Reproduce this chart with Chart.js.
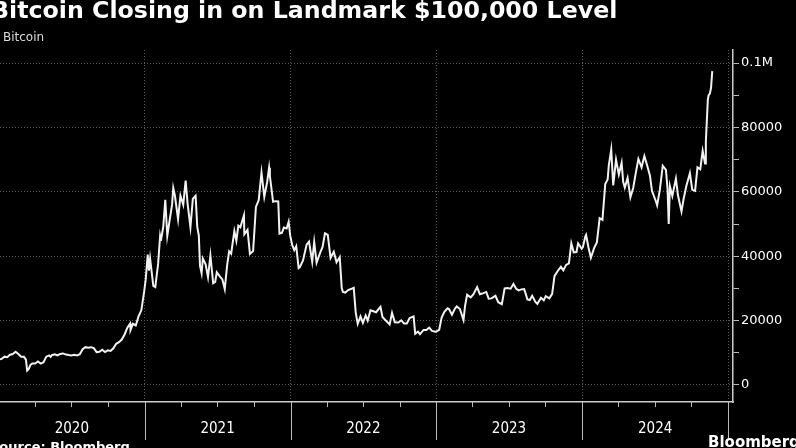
<!DOCTYPE html>
<html>
<head>
<meta charset="utf-8">
<script src="https://cdn.jsdelivr.net/npm/chart.js@4"></script>
<style>
  html, body { margin: 0; padding: 0; background: #000; overflow: hidden; }
  #wrap { position: relative; width: 796px; height: 448px; background: #000; }
  #title { position: absolute; left: -9px; top: -4px; white-space: nowrap;
           font: bold 23.7px "DejaVu Sans", sans-serif; color: #fff; }
  #sub { position: absolute; left: 3px; top: 30px; font: 12px "DejaVu Sans", sans-serif; color: #ddd; }
  #source { position: absolute; left: -10px; top: 439px; white-space: nowrap;
            font: bold 13px "DejaVu Sans", sans-serif; color: #fff; }
  #brand { position: absolute; left: 708px; top: 433px; white-space: nowrap;
           font: bold 15px "DejaVu Sans", sans-serif; color: #fff; }
  canvas { position: absolute; left: 0; top: 0; }
</style>
</head>
<body>
<div id="wrap">
  <canvas id="btcChart" width="796" height="448"></canvas>
  <div id="title">Bitcoin Closing in on Landmark $100,000 Level</div>
  <div id="sub">Bitcoin</div>
  <div id="source">Source: Bloomberg</div>
  <div id="brand">Bloomberg</div>
</div>
<script>
// ============================================
// Data (USD close)
// ============================================
const btc2020 = [
  ['01-01', 7900], ['01-08', 8100], ['01-15', 8800], ['01-22', 8650], ['01-29', 9400],
  ['02-05', 9600], ['02-12', 10300], ['02-19', 9600], ['02-26', 8800], ['03-04', 8750],
  ['03-09', 7900], ['03-12', 4500], ['03-16', 5000], ['03-20', 6200], ['03-25', 6700],
  ['04-01', 6650], ['04-08', 7300], ['04-15', 6650], ['04-22', 7100], ['04-29', 8800],
  ['05-06', 9200], ['05-10', 8700], ['05-13', 9300], ['05-20', 9500], ['05-27', 9200],
  ['06-03', 9650], ['06-10', 9800], ['06-17', 9450], ['06-24', 9300], ['07-01', 9200],
  ['07-08', 9400], ['07-15', 9200], ['07-22', 9550], ['07-29', 11100], ['08-05', 11750],
  ['08-12', 11550], ['08-19', 11750], ['08-26', 11450], ['09-02', 10200], ['09-09', 10300],
  ['09-16', 10950], ['09-23', 10250], ['09-30', 10780], ['10-07', 10600], ['10-14', 11400],
  ['10-21', 12800], ['10-28', 13300], ['11-04', 14100], ['11-11', 15700], ['11-18', 17800],
  ['11-25', 19100], ['11-26', 17100], ['12-02', 19000], ['12-09', 18500], ['12-16', 21300],
  ['12-23', 23200], ['12-30', 28900]
];
const btc2021 = [
  ['01-03', 32800], ['01-08', 40500], ['01-11', 35500], ['01-14', 39200], ['01-22', 30800],
  ['01-27', 30400], ['02-03', 37600], ['02-08', 46200], ['02-10', 44800], ['02-16', 49200],
  ['02-21', 57500], ['02-26', 46300], ['03-03', 50400], ['03-10', 56000], ['03-13', 61200],
  ['03-17', 58900], ['03-25', 51500], ['03-31', 58800], ['04-07', 56000], ['04-13', 63500],
  ['04-18', 56200], ['04-25', 49000], ['05-01', 57800], ['05-08', 58800], ['05-12', 49200],
  ['05-16', 46400], ['05-19', 37000], ['05-23', 34700], ['05-26', 39300], ['06-02', 37500],
  ['06-08', 33500], ['06-14', 40200], ['06-21', 31600], ['06-26', 32000], ['06-30', 35000],
  ['07-07', 33800], ['07-14', 32800], ['07-20', 29800], ['07-26', 37300], ['07-31', 41500],
  ['08-05', 40800], ['08-13', 47800], ['08-18', 44800], ['08-23', 49500], ['08-28', 49000],
  ['09-06', 52700], ['09-07', 46800], ['09-15', 48200], ['09-21', 40700], ['09-29', 41600],
  ['10-06', 55300], ['10-13', 57400], ['10-20', 66000], ['10-27', 58400], ['11-03', 62900],
  ['11-08', 67500], ['11-10', 64900], ['11-18', 56900], ['11-24', 57100], ['12-01', 57000],
  ['12-04', 47000], ['12-10', 47200], ['12-15', 48900], ['12-22', 48600], ['12-27', 50700],
  ['12-31', 46300]
];
const btc2022 = [
  ['01-05', 43400], ['01-10', 41900], ['01-15', 43100], ['01-21', 36300], ['01-24', 36600],
  ['02-01', 38700], ['02-10', 43600], ['02-16', 44500], ['02-24', 38300], ['03-01', 44400],
  ['03-07', 38000], ['03-16', 41100], ['03-22', 42900], ['03-28', 47100], ['04-04', 46600],
  ['04-11', 39500], ['04-19', 41400], ['04-26', 38100], ['05-04', 39700], ['05-09', 30100],
  ['05-12', 28900], ['05-18', 28700], ['05-25', 29500], ['06-01', 29800], ['06-08', 30200],
  ['06-13', 22500], ['06-18', 19000], ['06-25', 21300], ['07-01', 19300], ['07-08', 21600],
  ['07-13', 20000], ['07-20', 23200], ['07-27', 22900], ['08-03', 22600], ['08-14', 24300],
  ['08-19', 21100], ['08-26', 20200], ['09-06', 18800], ['09-12', 22400], ['09-19', 19500],
  ['09-28', 19400], ['10-05', 20100], ['10-12', 19100], ['10-19', 19100], ['10-26', 20800],
  ['11-05', 21300], ['11-09', 15900], ['11-16', 16600], ['11-21', 15800], ['11-30', 17100],
  ['12-07', 17100], ['12-14', 17800], ['12-21', 16800], ['12-30', 16550]
];
const btc2023 = [
  ['01-01', 16600], ['01-08', 17100], ['01-14', 20900], ['01-21', 22700], ['01-29', 23800],
  ['02-02', 23500], ['02-09', 21800], ['02-16', 23600], ['02-21', 24400], ['03-01', 23600],
  ['03-10', 20200], ['03-14', 24700], ['03-19', 28000], ['03-28', 27200], ['04-04', 28200],
  ['04-13', 30400], ['04-20', 28200], ['04-26', 28400], ['05-06', 28900], ['05-12', 26800],
  ['05-19', 26900], ['05-29', 27700], ['06-05', 25700], ['06-14', 25100], ['06-21', 30000],
  ['06-28', 30100], ['07-06', 29900], ['07-13', 31400], ['07-20', 29900], ['07-26', 29400],
  ['08-02', 29700], ['08-09', 29800], ['08-17', 26600], ['08-23', 26400], ['08-29', 27700],
  ['09-06', 25800], ['09-11', 25200], ['09-20', 27100], ['09-27', 26300], ['10-02', 27600],
  ['10-11', 26900], ['10-18', 28300], ['10-24', 33900], ['11-01', 35400], ['11-09', 36700],
  ['11-15', 35600], ['11-22', 37300], ['11-29', 37800], ['12-05', 44000], ['12-11', 41200],
  ['12-18', 41300], ['12-22', 44000], ['12-31', 42300]
];
const btc2024 = [
  ['01-03', 42800], ['01-09', 46100], ['01-11', 46600], ['01-17', 42700], ['01-23', 39500],
  ['01-31', 42500], ['02-07', 44300], ['02-14', 51800], ['02-21', 51300], ['02-28', 62400],
  ['03-05', 63800], ['03-08', 68300], ['03-14', 73100], ['03-19', 62000], ['03-26', 70000],
  ['04-02', 65400], ['04-09', 69000], ['04-13', 63000], ['04-17', 61300], ['04-24', 64300],
  ['05-01', 58300], ['05-08', 61200], ['05-15', 66200], ['05-21', 70200], ['05-29', 67600],
  ['06-05', 71100], ['06-12', 68200], ['06-19', 65000], ['06-24', 60300], ['07-04', 57000],
  ['07-07', 55800], ['07-14', 60800], ['07-21', 68100], ['07-29', 66800], ['08-02', 61000],
  ['08-05', 50000], ['08-08', 61700], ['08-14', 58700], ['08-23', 64100], ['08-28', 59000],
  ['09-06', 53900], ['09-11', 57600], ['09-18', 61700], ['09-27', 65800], ['10-03', 60600],
  ['10-10', 60300], ['10-16', 67600], ['10-23', 67000], ['10-29', 72700], ['11-04', 68800],
  ['11-06', 75600], ['11-11', 88700], ['11-13', 90000], ['11-16', 90500], ['11-19', 92300],
  ['11-22', 97500]
];

const years = [2020, 2021, 2022, 2023, 2024];
const yearLabels = ['2020', '2021', '2022', '2023', '2024'];
const yearBounds = [2021, 2022, 2023, 2024, 2025];
const yTickValues = [0, 10000, 20000, 30000, 40000, 50000, 60000, 70000, 80000, 90000, 100000];

// ============================================
// Helpers
// ============================================
const DAY = 86400000;
function toDay(dateString) {
    return Date.parse(dateString) / DAY;
}

const seriesByYear = [btc2020, btc2021, btc2022, btc2023, btc2024];
const points = [];
seriesByYear.forEach(function(rows, i) {
    rows.forEach(function(r) {
        points.push({ x: toDay(years[i] + '-' + r[0]), y: r[1] });
    });
});

// Year labels, separators and quarter ticks under the x axis
const yearAxisPlugin = {
    id: 'yearAxis',
    afterDraw(chart) {
        const ctx = chart.ctx;
        const xs = chart.scales.x;
        const area = chart.chartArea;
        ctx.save();
        ctx.strokeStyle = '#bbb';
        ctx.lineWidth = 1;
        // separators between years
        yearBounds.forEach(function(y) {
            const px = Math.round(xs.getPixelForValue(toDay(y + '-01-01'))) + 0.5;
            ctx.beginPath();
            ctx.moveTo(px, area.bottom);
            ctx.lineTo(px, area.bottom + 38);
            ctx.stroke();
        });
        // quarter ticks
        years.forEach(function(y) {
            ['04-01', '07-01', '10-01'].forEach(function(md) {
                const px = Math.round(xs.getPixelForValue(toDay(y + '-' + md))) + 0.5;
                ctx.beginPath();
                ctx.moveTo(px, area.bottom);
                ctx.lineTo(px, area.bottom + 5);
                ctx.stroke();
            });
        });
        // year labels
        ctx.fillStyle = '#fff';
        ctx.font = '15px "DejaVu Sans Condensed", "DejaVu Sans", sans-serif';
        ctx.textAlign = 'center';
        ctx.textBaseline = 'middle';
        years.forEach(function(y, i) {
            const px = xs.getPixelForValue(toDay(y + '-07-02'));
            ctx.fillText(yearLabels[i], px, area.bottom + 27);
        });
        ctx.restore();
    }
};

// ============================================
// Chart
// ============================================
new Chart(document.getElementById('btcChart').getContext('2d'), {
    type: 'line',
    data: {
        datasets: [{
            label: 'Bitcoin',
            data: points,
            borderColor: '#f2f2f2',
            borderWidth: 2,
            pointRadius: 0,
            tension: 0,
            fill: false
        }]
    },
    options: {
        responsive: false,
        animation: false,
        events: [],
        layout: { padding: { top: 50, left: 0, right: 0, bottom: 0 } },
        plugins: {
            legend: { display: false },
            tooltip: { enabled: false }
        },
        scales: {
            x: {
                type: 'linear',
                min: toDay('2020-01-04'),
                max: toDay('2025-01-13'),
                afterBuildTicks: function(scale) {
                    scale.ticks = yearBounds.map(function(y) { return { value: toDay(y + '-01-01') }; });
                },
                afterFit: function(scale) { scale.height = 46; },
                ticks: { display: false },
                grid: { color: '#5a5a5a', lineWidth: 1, drawTicks: false },
                border: { display: true, color: '#ccc', width: 1.5, dash: [1, 2] }
            },
            y: {
                position: 'right',
                min: -5280,
                max: 104040,
                afterBuildTicks: function(scale) {
                    scale.ticks = yTickValues.map(function(v) { return { value: v }; });
                },
                afterFit: function(scale) { scale.width = 63; },
                ticks: {
                    color: '#fff',
                    padding: 2,
                    font: { family: '"DejaVu Sans", sans-serif', size: 13 },
                    callback: function(v) {
                        if (v === 100000) return '0.1M';
                        return v % 20000 === 0 ? String(v) : '';
                    }
                },
                grid: {
                    color: function(ctx) {
                        return ctx.tick && ctx.tick.value % 20000 === 0 ? '#5a5a5a' : 'transparent';
                    },
                    lineWidth: 1,
                    tickLength: 6,
                    tickColor: '#bbb'
                },
                border: { display: true, color: '#ccc', width: 1.5, dash: [1, 2] }
            }
        }
    },
    plugins: [yearAxisPlugin]
});
</script>
</body>
</html>
